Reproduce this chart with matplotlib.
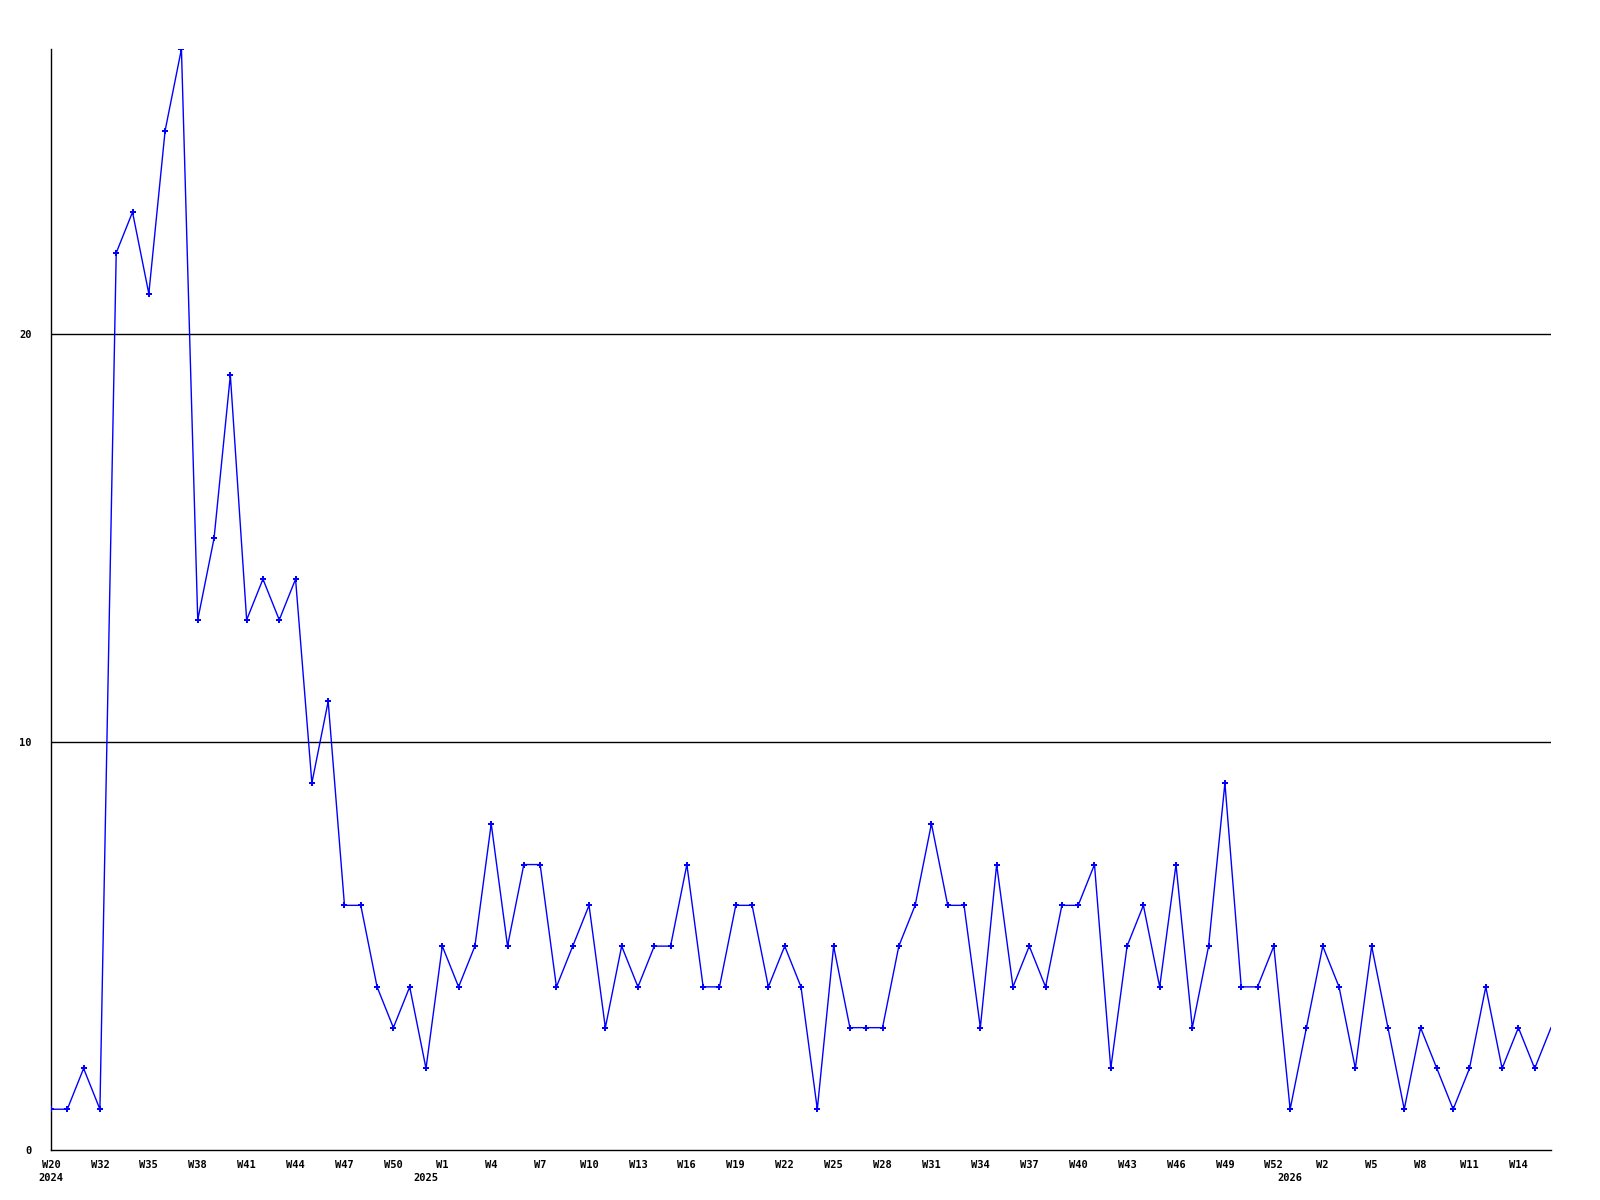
import numpy as np
import matplotlib
matplotlib.use("Agg")
import matplotlib.pyplot as plt
from matplotlib.transforms import blended_transform_factory

# weekly counts, one value per week shown on the axis
values = [1, 1, 2, 1, 22, 23, 21, 25, 27, 13, 15, 19, 13, 14, 13, 14, 9, 11, 6, 6,
          4, 3, 4, 2, 5, 4, 5, 8, 5, 7, 7, 4, 5, 6, 3, 5, 4, 5, 5, 7,
          4, 4, 6, 6, 4, 5, 4, 1, 5, 3, 3, 3, 5, 6, 8, 6, 6, 3, 7, 4,
          5, 4, 6, 6, 7, 2, 5, 6, 4, 7, 3, 5, 9, 4, 4, 5, 1, 3, 5, 4,
          2, 5, 3, 1, 3, 2, 1, 2, 4, 2, 3, 2, 3]

tick_labels = ["W20", "W32", "W35", "W38", "W41", "W44", "W47", "W50", "W1", "W4",
               "W7", "W10", "W13", "W16", "W19", "W22", "W25", "W28", "W31", "W34",
               "W37", "W40", "W43", "W46", "W49", "W52", "W2", "W5", "W8", "W11", "W14"]
tick_step = 3

years = ["2024", "2025", "2026"]
year_idx = [0, 23, 76]

y_ticks = [0, 10, 20]

font = {"family": "DejaVu Sans Mono", "weight": "bold", "size": 7.5}

fig = plt.figure(figsize=(16, 12), dpi=100)
ax = fig.add_axes([51 / 1600, 50 / 1200, 1500 / 1600, 1101 / 1200])

x = np.arange(len(values))
for yv in y_ticks[1:]:
    ax.axhline(yv, color="black", lw=1, zorder=1)
# last point sits on the frame edge, drawn without a marker like the original
ax.plot(x, values, color="#0000ff", lw=1, marker="P", markersize=5,
        markeredgewidth=0, markevery=slice(0, len(values) - 1), zorder=3)

ax.set_xlim(0, len(values) - 1)
ax.set_ylim(0, max(values))
for s in ["top", "right"]:
    ax.spines[s].set_visible(False)
for s in ["left", "bottom"]:
    ax.spines[s].set_color("black")
    ax.spines[s].set_linewidth(1)

ax.set_xticks(x[::tick_step][:len(tick_labels)])
ax.set_xticklabels(tick_labels, fontdict=font)
ax.set_yticks(y_ticks)
ax.set_yticklabels([str(v) for v in y_ticks], fontdict=font)
ax.tick_params(axis="x", length=0, pad=7)
ax.tick_params(axis="y", length=0, pad=14)

trans = blended_transform_factory(ax.transData, ax.transAxes)
for yr, i in zip(years, year_idx):
    ax.text(i, -0.021, yr, transform=trans, ha="center", va="top", **font)

fig.savefig("out.png", dpi=100)
